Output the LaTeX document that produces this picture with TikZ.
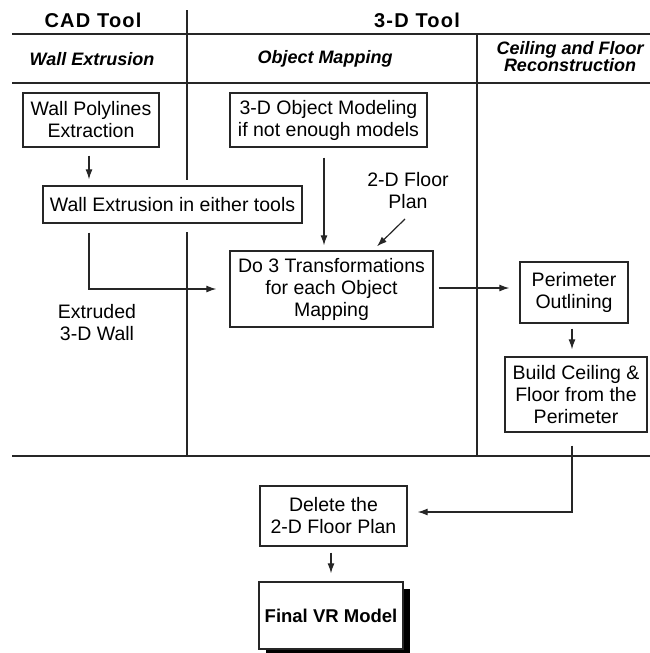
\documentclass[tikz,border=0pt]{standalone}
\usepackage{fontspec}
\setmainfont{Liberation Sans}
\newfontfamily\hdrfont[LetterSpace=6]{Liberation Sans}
\usetikzlibrary{arrows.meta}
\begin{document}
\begin{tikzpicture}[x=1pt,y=-1pt,
  rule/.style={line width=1.3pt, draw=black!85},
  arr/.style={line width=1.2pt, draw=black!85, -{Latex[length=10pt,width=7pt]}},
  box/.style={draw=black!85, line width=1.3pt, fill=white, inner sep=0pt, align=center,
     font=\fontsize{19.5}{22}\selectfont},
  plain/.style={inner sep=0pt, align=center, font=\fontsize{19.5}{22}\selectfont},
  hdr/.style={inner sep=0pt, align=center, font=\hdrfont\bfseries\fontsize{20}{22}\selectfont},
  sub/.style={inner sep=0pt, align=center, font=\bfseries\itshape\fontsize{18}{17}\selectfont}]
\useasboundingbox (0,0) rectangle (650,653);

% grid lines
\draw[rule] (12,34) -- (650,34);
\draw[rule] (12,83) -- (650,83);
\draw[rule] (12,456) -- (650,456);
\draw[rule] (187,10) -- (187,180);
\draw[rule] (187,232) -- (187,456);
\draw[rule] (477,34) -- (477,456);

% headers
\node[hdr] (hcad) at (93,20) {CAD Tool};
\node[hdr] (h3d) at (417,20) {3-D Tool};
\node[sub] (hwe) at (92,59) {Wall Extrusion};
\node[sub] (hom) at (325,59) {Object Mapping};
\node[sub] (hcf) at (570,57) {Ceiling and Floor\\Reconstruction};

% boxes
\node[box, minimum width=136pt, minimum height=54pt] (wpe) at (91,120) {Wall Polylines\\Extraction};
\node[box, minimum width=197pt, minimum height=54pt] (om) at (328.5,120) {3-D Object Modeling\\if not enough models};
\node[box, minimum width=259pt, minimum height=37pt] (we) at (172.5,204.5) {Wall Extrusion in either tools};
\node[box, minimum width=203pt, minimum height=76pt] (dt) at (331.5,289) {Do 3 Transformations\\for each Object\\Mapping};
\node[box, minimum width=108pt, minimum height=61pt] (po) at (574,292.5) {Perimeter\\Outlining};
\node[box, minimum width=142pt, minimum height=75pt] (bc) at (576,394.5) {Build Ceiling \&\\Floor from the\\Perimeter};
\node[box, minimum width=147pt, minimum height=60pt] (dl) at (333.5,516) {Delete the\\2-D Floor Plan};
\fill[black] (266,589) rectangle (410,656);
\node[box, minimum width=144pt, minimum height=67pt, font=\bfseries\fontsize{18.5}{22}\selectfont] (fv) at (331,615.5) {Final VR Model};

% labels
\node[plain] (fp) at (408,191) {2-D Floor\\Plan};
\node[plain] (ex) at (97,322.5) {Extruded\\3-D Wall};
\coordinate (fps) at (405,219);

% connectors
\draw[arr] ([xshift=-2pt,yshift=-8pt]wpe.south) -- ([xshift=-2pt,yshift=6pt]wpe.south |- we.north);
\draw[arr] ([yshift=-9pt]we.south -| wpe.south) ++(-2,0) |- ([xshift=-13pt]dt.west);
\draw[arr] ([xshift=-4.5pt,yshift=-10pt]om.south) -- ([xshift=-4.5pt,yshift=5pt]om.south |- dt.north);
\draw[arr] (fps) -- ([xshift=45.5pt,yshift=4pt]dt.north);
\draw[arr] ([xshift=5pt,yshift=1pt]dt.east) -- ([xshift=-10pt,yshift=1pt]dt.east -| po.west);
\draw[arr] ([xshift=-2pt,yshift=-5pt]po.south) -- ([xshift=-2pt,yshift=7pt]po.south |- bc.north);
\draw[arr] ([xshift=-4pt,yshift=-13pt]bc.south) |- ([xshift=10pt,yshift=4pt]dl.east);
\draw[arr] ([xshift=-2.5pt,yshift=-6pt]dl.south) -- ([xshift=-2.5pt,yshift=8pt]dl.south |- fv.north);
\end{tikzpicture}
\end{document}
